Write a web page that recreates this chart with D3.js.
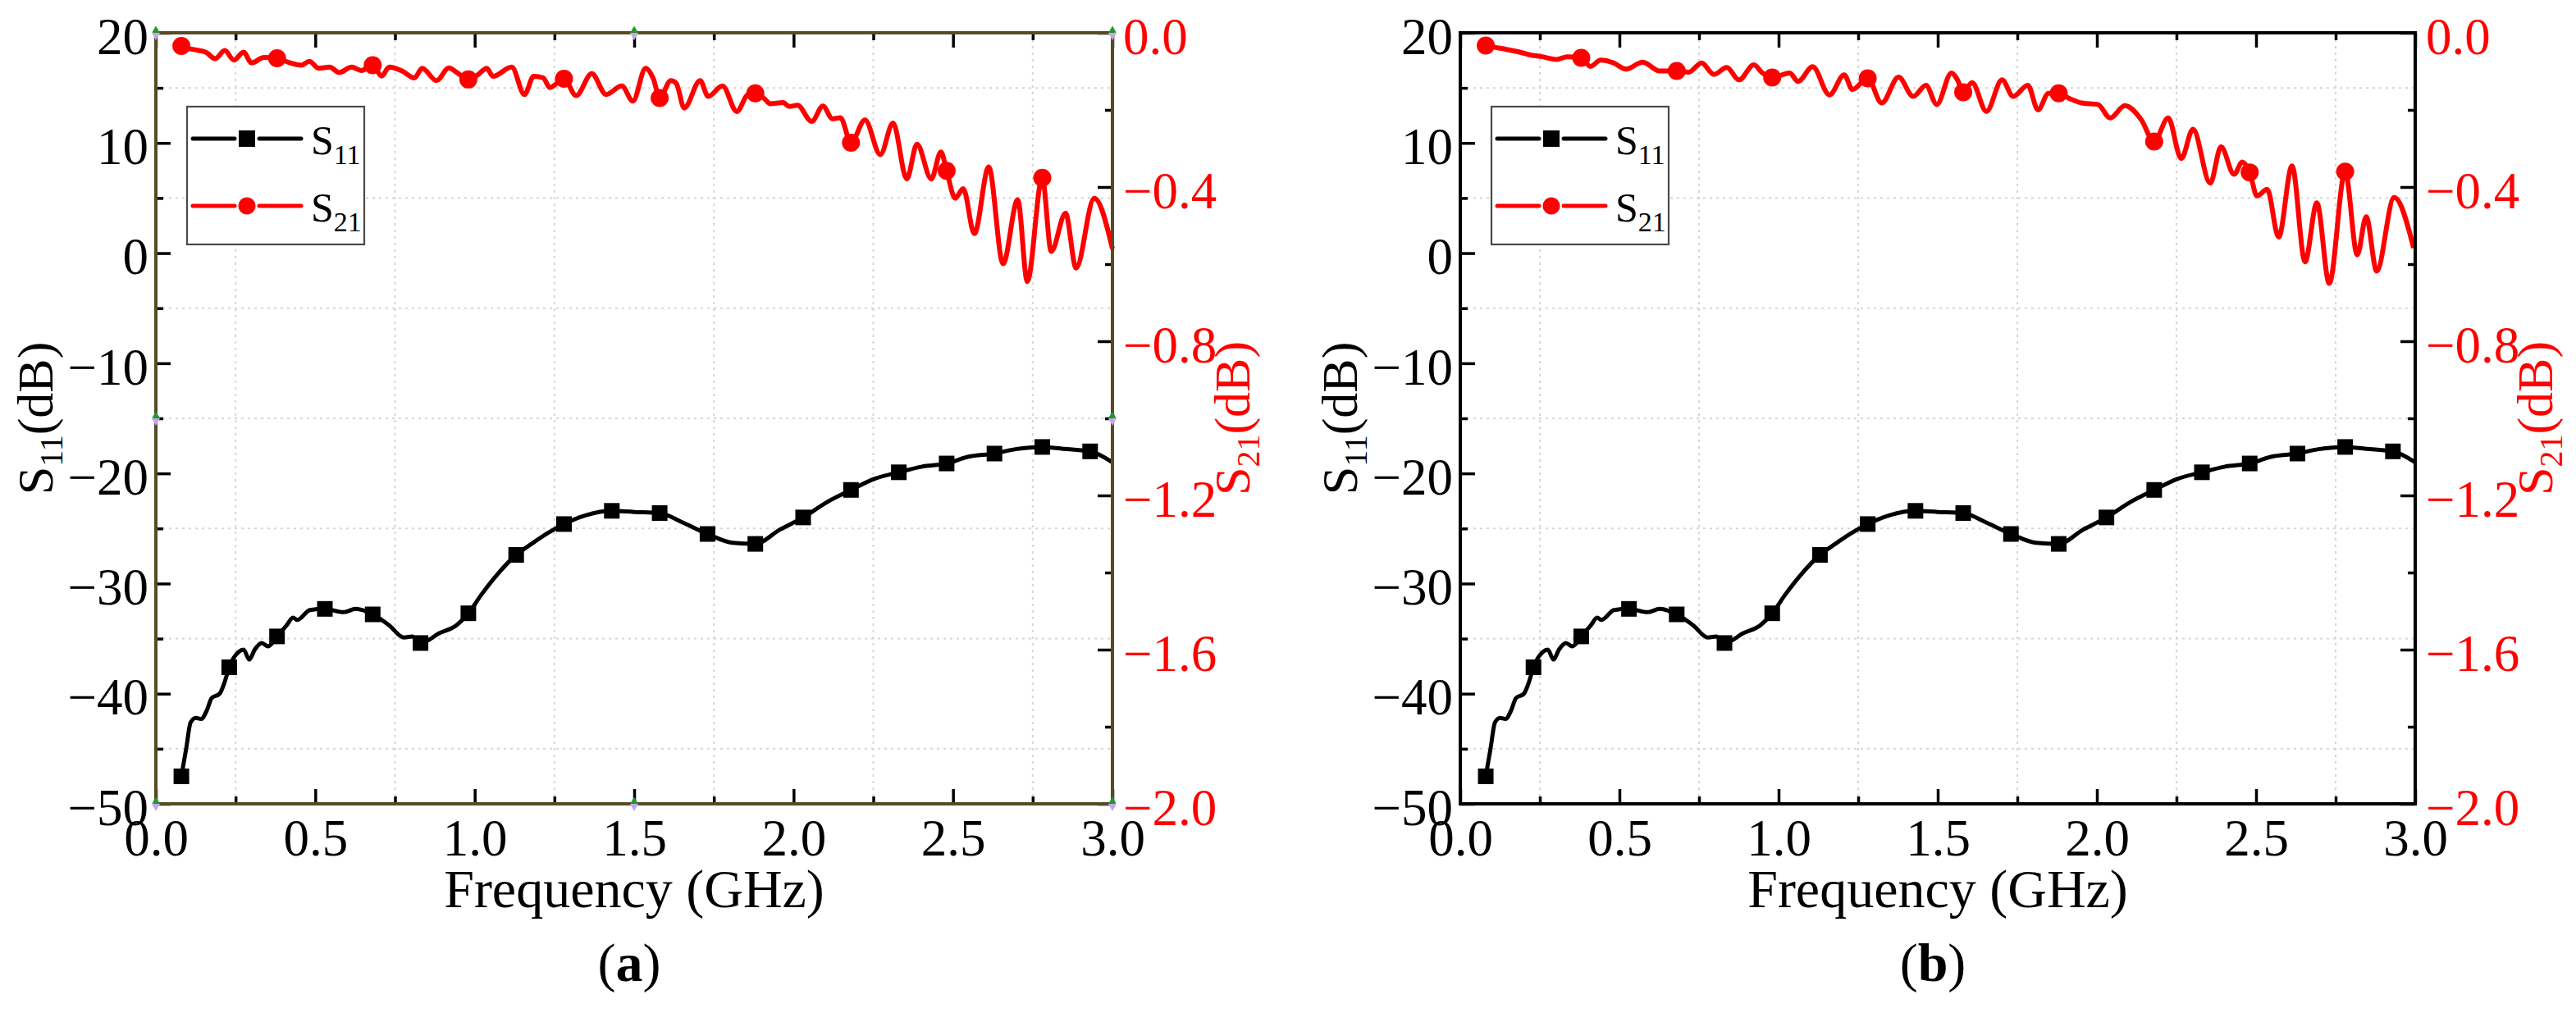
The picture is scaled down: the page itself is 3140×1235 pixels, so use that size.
<!doctype html>
<html lang="en">
<head>
<meta charset="UTF-8">
<title>S11 / S21 vs frequency</title>
<script src="https://cdn.jsdelivr.net/npm/d3@7/dist/d3.min.js"></script>
<style>
    body { margin: 0; background: #fff; }
    svg { display: block; }
</style>
</head>
<body>
<script>
    // values (GHz, dB)
    var freqS11 = [0.08, 0.095, 0.109, 0.125, 0.142, 0.16, 0.175, 0.2, 0.215, 0.23, 0.26, 0.275, 0.293, 0.31, 0.332, 0.352,
        0.38, 0.41, 0.43, 0.444, 0.483, 0.53, 0.588, 0.627, 0.68, 0.732, 0.778, 0.804, 0.83, 0.89, 0.942, 0.98,
        1.021, 1.067, 1.13, 1.178, 1.23, 1.28, 1.349, 1.43, 1.5, 1.58, 1.648, 1.73, 1.809, 1.88, 1.957, 2.03,
        2.105, 2.18, 2.253, 2.33, 2.4, 2.48, 2.546, 2.63, 2.696, 2.78, 2.857, 2.93, 3.0];
    var valS11 = [-47.5, -45.0, -42.6, -42.2, -42.3, -41.5, -40.4, -40.0, -39.0, -37.6, -36.2, -36.0, -36.9, -36.0, -35.4, -35.7,
        -34.8, -33.8, -33.1, -33.3, -32.4, -32.3, -32.6, -32.3, -32.8, -33.8, -34.9, -34.8, -35.4, -34.5, -33.8, -32.7,
        -31.0, -29.3, -27.4, -26.4, -25.4, -24.6, -23.8, -23.4, -23.5, -23.6, -24.4, -25.5, -26.3, -26.4, -25.1, -24.0,
        -22.6, -21.5, -20.5, -19.9, -19.4, -19.1, -18.5, -18.2, -17.8, -17.6, -17.8, -18.0, -19.0];
    var markFreqS11 = [0.08, 0.23, 0.38, 0.53, 0.68, 0.83, 0.98, 1.13, 1.28, 1.43, 1.58, 1.73, 1.88, 2.03, 2.18, 2.33, 2.48, 2.63, 2.78, 2.93];

    var freqS21a = [0.08, 0.10, 0.122, 0.156, 0.186, 0.216, 0.245, 0.275, 0.30, 0.339, 0.38, 0.417, 0.457, 0.481, 0.511, 0.545,
        0.575, 0.614, 0.644, 0.68, 0.708, 0.732, 0.772, 0.811, 0.835, 0.88, 0.919, 0.944, 0.98, 1.008, 1.038, 1.057,
        1.116, 1.156, 1.185, 1.215, 1.235, 1.28, 1.318, 1.367, 1.412, 1.461, 1.496, 1.536, 1.561, 1.58, 1.615, 1.632,
        1.657, 1.707, 1.732, 1.777, 1.822, 1.857, 1.88, 1.907, 1.927, 1.967, 1.987, 2.012, 2.057, 2.092, 2.122, 2.147,
        2.18, 2.224, 2.272, 2.312, 2.355, 2.387, 2.432, 2.462, 2.48, 2.507, 2.532, 2.567, 2.612, 2.657, 2.703, 2.733,
        2.78, 2.808, 2.853, 2.886, 2.943, 3.0];
    var valS21a = [-0.034, -0.040, -0.044, -0.050, -0.067, -0.046, -0.071, -0.050, -0.078, -0.064, -0.066, -0.077, -0.084, -0.074, -0.092, -0.089,
        -0.103, -0.089, -0.098, -0.084, -0.112, -0.089, -0.099, -0.117, -0.092, -0.124, -0.091, -0.103, -0.121, -0.110, -0.092, -0.113,
        -0.089, -0.160, -0.113, -0.117, -0.142, -0.119, -0.163, -0.106, -0.160, -0.138, -0.177, -0.092, -0.121, -0.169, -0.124, -0.131,
        -0.195, -0.124, -0.165, -0.138, -0.204, -0.160, -0.157, -0.170, -0.184, -0.181, -0.191, -0.188, -0.230, -0.190, -0.223, -0.220,
        -0.285, -0.226, -0.316, -0.234, -0.379, -0.289, -0.379, -0.309, -0.358, -0.429, -0.404, -0.521, -0.348, -0.599, -0.433, -0.645,
        -0.376, -0.567, -0.468, -0.610, -0.429, -0.560];

    var freqS21b = [0.08, 0.112, 0.145, 0.191, 0.217, 0.257, 0.303, 0.336, 0.38, 0.409, 0.441, 0.481, 0.521, 0.573, 0.626, 0.68,
        0.718, 0.758, 0.797, 0.837, 0.876, 0.922, 0.949, 0.98, 1.035, 1.061, 1.107, 1.16, 1.206, 1.232, 1.28, 1.324,
        1.377, 1.423, 1.463, 1.497, 1.543, 1.562, 1.58, 1.608, 1.653, 1.702, 1.737, 1.783, 1.815, 1.848, 1.88, 1.913,
        1.952, 2.003, 2.042, 2.088, 2.139, 2.18, 2.224, 2.265, 2.302, 2.356, 2.39, 2.431, 2.457, 2.48, 2.503, 2.535,
        2.571, 2.613, 2.654, 2.691, 2.73, 2.78, 2.818, 2.846, 2.879, 2.934, 2.995];
    var valS21b = [-0.033, -0.038, -0.043, -0.051, -0.057, -0.062, -0.069, -0.062, -0.065, -0.087, -0.071, -0.078, -0.094, -0.076, -0.099, -0.099,
        -0.102, -0.078, -0.108, -0.090, -0.122, -0.083, -0.104, -0.116, -0.104, -0.126, -0.088, -0.161, -0.109, -0.147, -0.118, -0.182,
        -0.115, -0.165, -0.136, -0.186, -0.104, -0.122, -0.154, -0.129, -0.204, -0.122, -0.165, -0.136, -0.200, -0.157, -0.157, -0.170,
        -0.182, -0.186, -0.221, -0.189, -0.225, -0.282, -0.221, -0.326, -0.250, -0.390, -0.296, -0.367, -0.335, -0.362, -0.423, -0.406,
        -0.530, -0.345, -0.594, -0.441, -0.650, -0.360, -0.576, -0.477, -0.618, -0.427, -0.558];
    var markFreqS21 = [0.08, 0.38, 0.68, 0.98, 1.28, 1.58, 1.88, 2.18, 2.48, 2.78];

    var xMajor = [0, 0.5, 1.0, 1.5, 2.0, 2.5, 3.0];
    var xMinor = [0.25, 0.75, 1.25, 1.75, 2.25, 2.75];
    var y11Major = [20, 10, 0, -10, -20, -30, -40, -50];
    var y11Minor = [15, 5, -5, -15, -25, -35, -45];
    var y21Major = [0, -0.4, -0.8, -1.2, -1.6, -2.0];
    var y21Minor = [-0.2, -0.6, -1.0, -1.4, -1.8];

    var panels = [
        {letter: "a", left: 190, right: 1356, frame: "#574a24", handles: true, f21: freqS21a, v21: valS21a},
        {letter: "b", left: 1780, right: 2944, frame: "#000", handles: false, f21: freqS21b, v21: valS21b}
    ];

    var width = 3140, height = 1235;
    var plotTop = 40, plotBottom = 980;
    var serif = "'Liberation Serif', 'Times New Roman', serif";

    var svg = d3.select("body").append("svg").attr("width", width).attr("height", height)
        .style("font-family", serif);

    function pairs(fs, vs) {
        return fs.map(function (f, i) { return [f, vs[i]]; });
    }

    function pickMarks(pts, marks) {
        return pts.filter(function (d) {
            return marks.some(function (m) { return Math.abs(m - d[0]) < 0.004; });
        });
    }

    function styleAxis(sel, color) {
        sel.select(".domain").remove();
        sel.attr("font-family", null).attr("font-size", null);
        sel.selectAll(".tick line").attr("stroke", "#000").attr("stroke-width", 3.5);
        sel.selectAll(".tick text").attr("font-size", 63).attr("fill", color || "#000");
    }

    function minorAxis(sel) {
        styleAxis(sel);
        sel.selectAll(".tick text").remove();
    }

    function drawPanel(p) {
        var x = d3.scaleLinear().domain([0, 3]).range([p.left, p.right]);
        var y11 = d3.scaleLinear().domain([-50, 20]).range([plotBottom, plotTop]);
        var y21 = d3.scaleLinear().domain([-2, 0]).range([plotBottom, plotTop]);
        var g = svg.append("g");

        // dotted grid at the minor positions
        g.selectAll("line.gx").data(xMinor).enter().append("line")
            .attr("x1", function (d) { return x(d); }).attr("x2", function (d) { return x(d); })
            .attr("y1", plotTop).attr("y2", plotBottom)
            .attr("stroke", "#d6d6d6").attr("stroke-width", 2).attr("stroke-dasharray", "3,5");
        g.selectAll("line.gy").data(y11Minor).enter().append("line")
            .attr("x1", p.left).attr("x2", p.right)
            .attr("y1", function (d) { return y11(d); }).attr("y2", function (d) { return y11(d); })
            .attr("stroke", "#d6d6d6").attr("stroke-width", 2).attr("stroke-dasharray", "3,5");

        // S11 curve
        var s11 = pairs(freqS11, valS11);
        g.append("path").datum(s11)
            .attr("fill", "none").attr("stroke", "#000").attr("stroke-width", 5)
            .attr("stroke-linejoin", "round")
            .attr("d", d3.line().curve(d3.curveMonotoneX)
                .x(function (d) { return x(d[0]); }).y(function (d) { return y11(d[1]); }));
        g.selectAll("rect.m11").data(pickMarks(s11, markFreqS11)).enter().append("rect")
            .attr("x", function (d) { return x(d[0]) - 9.5; }).attr("y", function (d) { return y11(d[1]) - 9.5; })
            .attr("width", 19).attr("height", 19).attr("fill", "#000");

        // S21 curve
        var s21 = pairs(p.f21, p.v21);
        g.append("path").datum(s21)
            .attr("fill", "none").attr("stroke", "#ff0000").attr("stroke-width", 6)
            .attr("stroke-linejoin", "round")
            .attr("d", d3.line().curve(d3.curveMonotoneX)
                .x(function (d) { return x(d[0]); }).y(function (d) { return y21(d[1]); }));
        g.selectAll("circle.m21").data(pickMarks(s21, markFreqS21)).enter().append("circle")
            .attr("cx", function (d) { return x(d[0]); }).attr("cy", function (d) { return y21(d[1]); })
            .attr("r", 11).attr("fill", "#ff0000");

        // axes: ticks point inwards
        g.append("g").attr("transform", "translate(0," + plotBottom + ")")
            .call(d3.axisBottom(x).tickValues(xMajor).tickSize(-18).tickPadding(18).tickFormat(d3.format(".1f")))
            .call(styleAxis);
        g.append("g").attr("transform", "translate(0," + plotBottom + ")")
            .call(d3.axisBottom(x).tickValues(xMinor).tickSize(-9))
            .call(minorAxis);
        g.append("g").attr("transform", "translate(0," + plotTop + ")")
            .call(d3.axisTop(x).tickValues(xMajor).tickSize(-18))
            .call(minorAxis);
        g.append("g").attr("transform", "translate(0," + plotTop + ")")
            .call(d3.axisTop(x).tickValues(xMinor).tickSize(-9))
            .call(minorAxis);

        var ax11 = g.append("g").attr("transform", "translate(" + p.left + ",0)")
            .call(d3.axisLeft(y11).tickValues(y11Major).tickSize(-18).tickPadding(9).tickFormat(d3.format("d")))
            .call(styleAxis);
        ax11.selectAll(".tick text").attr("dy", "0.4em");
        g.append("g").attr("transform", "translate(" + p.left + ",0)")
            .call(d3.axisLeft(y11).tickValues(y11Minor).tickSize(-9))
            .call(minorAxis);

        var ax21 = g.append("g").attr("transform", "translate(" + p.right + ",0)")
            .call(d3.axisRight(y21).tickValues(y21Major).tickSize(-18).tickPadding(13).tickFormat(d3.format(".1f")))
            .call(styleAxis, "#ff0000");
        ax21.selectAll(".tick text").attr("dy", "0.4em");
        g.append("g").attr("transform", "translate(" + p.right + ",0)")
            .call(d3.axisRight(y21).tickValues(y21Minor).tickSize(-9))
            .call(minorAxis);

        // frame
        g.append("rect").attr("x", p.left).attr("y", plotTop)
            .attr("width", p.right - p.left).attr("height", plotBottom - plotTop)
            .attr("fill", "none").attr("stroke", p.frame).attr("stroke-width", 4);

        // selection handles left over on panel (a)
        if (p.handles) {
            var mx = (p.left + p.right) / 2, my = (plotTop + plotBottom) / 2;
            var spots = [[p.left, plotTop], [mx, plotTop], [p.right, plotTop], [p.left, my], [p.right, my],
                [p.left, plotBottom], [mx, plotBottom], [p.right, plotBottom]];
            g.selectAll("path.hd").data(spots).enter().append("path")
                .attr("transform", function (d) { return "translate(" + d[0] + "," + (d[1] + 3) + ") rotate(180)"; })
                .attr("d", d3.symbol().type(d3.symbolTriangle).size(45))
                .attr("fill", "#c4a7e7");
            g.selectAll("path.hu").data(spots).enter().append("path")
                .attr("transform", function (d) { return "translate(" + d[0] + "," + (d[1] - 3) + ")"; })
                .attr("d", d3.symbol().type(d3.symbolTriangle).size(40))
                .attr("fill", "#1f9a2a");
        }

        // legend
        var L = p.left + 38;
        var lg = g.append("g");
        lg.append("rect").attr("x", L).attr("y", 130).attr("width", 216).attr("height", 168)
            .attr("fill", "#fff").attr("stroke", "#4a4a4a").attr("stroke-width", 2.2);
        var rows = [{y: 169, c: "#000", sub: "11", shape: "sq"}, {y: 251, c: "#ff0000", sub: "21", shape: "ci"}];
        rows.forEach(function (r) {
            [[L + 7, L + 58], [L + 88, L + 139]].forEach(function (seg) {
                lg.append("line").attr("x1", seg[0]).attr("x2", seg[1]).attr("y1", r.y).attr("y2", r.y)
                    .attr("stroke", r.c).attr("stroke-width", 5).attr("stroke-linecap", "round");
            });
            if (r.shape === "sq") {
                lg.append("rect").attr("x", L + 63).attr("y", r.y - 10).attr("width", 20).attr("height", 20).attr("fill", r.c);
            } else {
                lg.append("circle").attr("cx", L + 73).attr("cy", r.y).attr("r", 10.5).attr("fill", r.c);
            }
            var t = lg.append("text").attr("x", L + 151).attr("y", r.y + 19).attr("font-size", 50).attr("fill", "#000");
            t.append("tspan").text("S");
            t.append("tspan").attr("font-size", 34).attr("dy", 12).text(r.sub);
        });

        // axis titles
        var cx = (p.left + p.right) / 2;
        var tl = g.append("text").attr("transform", "translate(" + (p.left - 126) + "," + ((plotTop + plotBottom) / 2) + ") rotate(-90)")
            .attr("text-anchor", "middle").attr("font-size", 62).attr("fill", "#000");
        tl.append("tspan").text("S");
        tl.append("tspan").attr("font-size", 40).attr("dy", 12).text("11");
        tl.append("tspan").attr("dy", -12).text("(dB)");

        var tr = g.append("text").attr("transform", "translate(" + (p.right + 167) + "," + ((plotTop + plotBottom) / 2) + ") rotate(-90)")
            .attr("text-anchor", "middle").attr("font-size", 62).attr("fill", "#ff0000");
        tr.append("tspan").text("S");
        tr.append("tspan").attr("font-size", 40).attr("dy", 12).text("21");
        tr.append("tspan").attr("dy", -12).text("(dB)");

        g.append("text").attr("x", cx).attr("y", 1106).attr("text-anchor", "middle")
            .attr("font-size", 66).attr("fill", "#000").text("Frequency (GHz)");

        var pl = g.append("text").attr("x", cx - 6).attr("y", 1196).attr("text-anchor", "middle")
            .attr("font-size", 66).attr("fill", "#000");
        pl.append("tspan").text("(");
        pl.append("tspan").attr("font-weight", "bold").text(p.letter);
        pl.append("tspan").text(")");
    }

    panels.forEach(drawPanel);
</script>
</body>
</html>
